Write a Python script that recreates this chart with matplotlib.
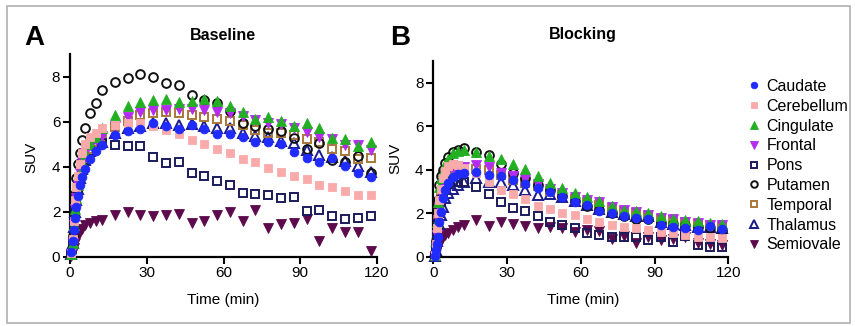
import matplotlib
matplotlib.use("Agg")
import matplotlib.pyplot as plt
from matplotlib.patches import Rectangle
import numpy as np

plt.rcParams['font.family'] = ['Liberation Sans', 'DejaVu Sans']

# ---------------- data ----------------
early_t = [0.5, 1.0, 1.5, 2.0, 2.5, 3.0, 3.75, 4.75, 6.0, 8.0, 10.0]
late_t = [12.5, 17.5, 22.5, 27.5, 32.5, 37.5, 42.5, 47.5, 52.5, 57.5, 62.5,
          67.5, 72.5, 77.5, 82.5, 87.5, 92.5, 97.5, 102.5, 107.5, 112.5, 117.5]
time_min = early_t + late_t

regions = ["Caudate", "Cerebellum", "Cingulate", "Frontal", "Pons",
           "Putamen", "Temporal", "Thalamus", "Semiovale"]

# Baseline (panel A)
base_caudate = [0.2, 0.7, 1.2, 1.7, 2.2, 2.7, 3.2, 3.55, 3.9, 4.35, 4.7,
                4.98, 5.41, 5.6, 5.66, 5.93, 5.82, 5.66, 5.87, 5.66, 5.46, 5.46,
                5.3, 5.08, 5.12, 5.02, 4.67, 4.37, 4.22, 4.37, 4.03, 3.7, 3.56]
base_cerebellum = [0.15, 0.8, 1.6, 2.5, 3.1, 3.6, 4.1, 4.6, 5.0, 5.3, 5.5,
                   5.7, 5.85, 5.95, 5.95, 5.8, 5.65, 5.45, 5.2, 5.0, 4.8, 4.6,
                   4.35, 4.2, 3.96, 3.76, 3.6, 3.45, 3.2, 3.12, 2.94, 2.76, 2.76]
base_cingulate = [0.1, 0.6, 1.4, 2.1, 2.6, 3.2, 3.7, 4.2, 4.6, 5.0, 5.3,
                  5.7, 6.31, 6.68, 6.86, 6.98, 7.0, 6.86, 6.9, 7.0, 6.9, 6.68,
                  6.41, 6.12, 6.2, 6.01, 5.82, 5.93, 5.74, 5.27, 5.23, 4.93, 5.12]
base_frontal = [0.1, 0.6, 1.4, 2.1, 2.6, 3.2, 3.7, 4.2, 4.6, 4.95, 5.2,
                5.35, 5.8, 6.21, 6.43, 6.53, 6.53, 6.56, 6.56, 6.53, 6.43, 6.38,
                6.27, 6.09, 5.93, 5.89, 5.71, 5.56, 5.31, 5.24, 4.96, 4.96, 4.75]
base_pons = [0.1, 0.6, 1.3, 2.0, 2.5, 3.0, 3.5, 3.9, 4.3, 4.7, 4.95,
             5.05, 4.98, 4.94, 4.9, 4.41, 4.16, 4.23, 3.72, 3.57, 3.38, 3.2,
             2.83, 2.8, 2.76, 2.61, 2.64, 2.01, 2.09, 1.82, 1.67, 1.71, 1.82]
base_putamen = [0.2, 0.9, 1.9, 2.8, 3.5, 4.1, 4.6, 5.2, 5.7, 6.4, 6.85,
                7.4, 7.75, 7.93, 8.1, 8.0, 7.7, 7.63, 7.2, 6.98, 6.83, 6.46,
                5.93, 5.83, 5.67, 5.59, 5.26, 4.78, 5.04, 4.3, 4.23, 4.48, 3.74]
base_temporal = [0.1, 0.6, 1.3, 2.0, 2.5, 3.0, 3.5, 4.0, 4.4, 4.8, 5.1,
                 5.3, 5.75, 6.03, 6.3, 6.38, 6.41, 6.38, 6.3, 6.2, 6.11, 6.03,
                 5.85, 5.63, 5.48, 5.5, 5.41, 5.22, 5.12, 4.78, 4.72, 4.33, 4.37]
base_thalamus = [0.1, 0.6, 1.3, 2.0, 2.5, 3.0, 3.5, 3.9, 4.3, 4.7, 5.0,
                 5.1, 5.5, 5.7, 5.8, 5.95, 5.95, 5.85, 5.9, 5.8, 5.7, 5.7,
                 5.5, 5.35, 5.3, 5.15, 5.04, 4.75, 4.52, 4.45, 4.25, 4.03, 3.75]
base_semiovale = [0.05, 0.2, 0.4, 0.6, 0.8, 0.95, 1.1, 1.25, 1.4, 1.5, 1.6,
                  1.62, 1.87, 1.97, 1.87, 1.82, 1.87, 1.91, 1.5, 1.57, 1.87, 1.97,
                  1.57, 2.06, 1.27, 1.46, 1.5, 1.67, 0.68, 1.27, 1.12, 1.12, 0.27]

# Blocking (panel B)
block_caudate = [0.05, 0.3, 0.6, 0.92, 1.6, 2.07, 2.68, 3.07, 3.4, 3.68, 3.8,
                 3.83, 3.91, 3.75, 3.71, 3.52, 3.34, 3.14, 2.99, 2.76, 2.53, 2.38,
                 2.1, 1.99, 1.87, 1.76, 1.72, 1.46, 1.38, 1.33, 1.23, 1.41, 1.26]
block_cerebellum = [0.1, 0.6, 1.3, 2.0, 2.6, 3.1, 3.6, 3.95, 4.15, 4.25, 4.2,
                    4.1, 3.83, 3.45, 3.07, 2.88, 2.64, 2.33, 2.18, 2.0, 1.92, 1.72,
                    1.58, 1.46, 1.38, 1.3, 1.23, 1.15, 1.1, 1.0, 0.92, 0.92, 0.85]
block_cingulate = [0.1, 0.7, 1.6, 2.5, 3.2, 3.6, 3.95, 4.25, 4.5, 4.75, 4.85,
                   4.9, 4.8, 4.65, 4.5, 4.25, 4.05, 3.7, 3.4, 3.15, 2.95, 2.75,
                   2.55, 2.35, 2.15, 2.1, 2.0, 1.85, 1.75, 1.7, 1.62, 1.55, 1.5]
block_frontal = [0.05, 0.4, 1.0, 1.7, 2.3, 2.9, 3.4, 3.8, 4.0, 4.1, 4.1,
                 4.12, 4.21, 4.14, 3.86, 3.71, 3.56, 3.34, 3.1, 2.94, 2.73, 2.61,
                 2.53, 2.3, 2.15, 2.07, 1.92, 1.77, 1.72, 1.61, 1.54, 1.46, 1.46]
block_pons = [0.05, 0.4, 0.9, 1.5, 2.0, 2.5, 2.9, 3.2, 3.35, 3.45, 3.45,
              3.45, 3.22, 2.88, 2.53, 2.22, 2.11, 1.87, 1.61, 1.46, 1.3, 1.1,
              1.02, 0.92, 0.89, 0.92, 0.77, 0.89, 0.69, 0.95, 0.55, 0.43, 0.45]
block_putamen = [0.1, 0.7, 1.6, 2.6, 3.3, 3.7, 4.0, 4.3, 4.6, 4.8, 4.9,
                 5.0, 4.8, 4.67, 4.25, 3.87, 3.6, 3.3, 3.05, 2.8, 2.55, 2.35,
                 2.15, 2.0, 1.85, 1.72, 1.75, 1.55, 1.5, 1.45, 1.35, 1.3, 1.25]
block_temporal = [0.05, 0.4, 1.0, 1.7, 2.3, 2.9, 3.4, 3.8, 4.05, 4.2, 4.15,
                  4.1, 4.05, 4.0, 3.75, 3.55, 3.4, 3.25, 3.0, 2.85, 2.65, 2.5,
                  2.4, 2.25, 2.1, 2.0, 1.85, 1.72, 1.68, 1.58, 1.5, 1.45, 1.42]
block_thalamus = [0.05, 0.3, 0.7, 1.1, 1.5, 1.9, 2.3, 2.7, 2.95, 3.1, 3.3,
                  3.45, 3.6, 3.45, 3.45, 3.3, 3.07, 2.84, 2.9, 2.75, 2.55, 2.4,
                  2.2, 2.05, 1.95, 1.85, 1.85, 1.6, 1.5, 1.45, 1.35, 1.35, 1.3]
block_semiovale = [0.02, 0.15, 0.3, 0.45, 0.6, 0.75, 0.9, 1.0, 1.1, 1.25, 1.35,
                   1.45, 1.69, 1.41, 1.61, 1.5, 1.41, 1.3, 1.35, 1.3, 1.15, 1.25,
                   1.2, 0.8, 0.95, 0.65, 0.9, 0.75, 0.8, 0.9, 0.65, 0.6, 0.55]

baseline = [base_caudate, base_cerebellum, base_cingulate, base_frontal, base_pons,
            base_putamen, base_temporal, base_thalamus, base_semiovale]
blocking = [block_caudate, block_cerebellum, block_cingulate, block_frontal, block_pons,
            block_putamen, block_temporal, block_thalamus, block_semiovale]

# ---------------- styles ----------------
styles = [
    dict(marker='o', mfc='#1f2bff', mec='#1f2bff'),          # Caudate
    dict(marker='s', mfc='#f9abab', mec='#f9abab'),          # Cerebellum
    dict(marker='^', mfc='#22b022', mec='#22b022'),          # Cingulate
    dict(marker='v', mfc='#b32cf0', mec='#b32cf0'),          # Frontal
    dict(marker='s', mfc='none', mec='#1b1b5c'),             # Pons
    dict(marker='o', mfc='none', mec='#111111'),             # Putamen
    dict(marker='s', mfc='none', mec='#a87838'),             # Temporal
    dict(marker='^', mfc='none', mec='#1a1a8a'),             # Thalamus
    dict(marker='v', mfc='#5c0a4c', mec='#5c0a4c'),          # Semiovale
]

W, H = 855, 326
fig = plt.figure(figsize=(W / 100, H / 100), dpi=100)


def fx(px):
    return px / W


def fy(py):
    return 1 - py / H


axA = fig.add_axes([fx(70), fy(256.7), fx(307), (256.7 - 54.2) / H])
axB = fig.add_axes([fx(433.3), fy(256.7), fx(295), (256.7 - 61.0) / H])

handles = []
for ax, data in ((axA, baseline), (axB, blocking)):
    for i in reversed(range(len(regions))):
        st = styles[i]
        ms = 6.3 if st['marker'] in ('o', 's') else 6.8
        ln, = ax.plot(time_min, data[i], linestyle='none', marker=st['marker'],
                      markerfacecolor=st['mfc'], markeredgecolor=st['mec'],
                      markersize=ms, markeredgewidth=1.4 if st['mfc'] == 'none' else 0.6,
                      clip_on=False, label=regions[i], zorder=3)
        if ax is axA:
            handles.insert(0, ln)
    ax.set_xlim(0, 120)
    ax.set_ylim(0, 9)
    ax.set_xticks([0, 30, 60, 90, 120])
    ax.set_yticks([0, 2, 4, 6, 8])
    for s in ('top', 'right'):
        ax.spines[s].set_visible(False)
    for s in ('left', 'bottom'):
        ax.spines[s].set_linewidth(1.6)
        ax.spines[s].set_zorder(2)
    ax.tick_params(axis='both', direction='out', length=5, width=1.5,
                   labelsize=11, pad=2, colors='black')
    ax.set_facecolor('none')

# titles / labels
fig.text(fx(34), fy(38), "A", fontsize=20, fontweight='bold', ha='center', va='center')
fig.text(fx(400), fy(38), "B", fontsize=20, fontweight='bold', ha='center', va='center')
fig.text(fx(223), fy(35), "Baseline", fontsize=11.5, fontweight='bold', ha='center', va='center')
fig.text(fx(583), fy(35), "Blocking", fontsize=11.5, fontweight='bold', ha='center', va='center')
fig.text(fx(223), fy(300), "Time (min)", fontsize=11, ha='center', va='center')
fig.text(fx(583), fy(300), "Time (min)", fontsize=11, ha='center', va='center')
fig.text(fx(31), fy(157), "SUV", fontsize=11, rotation=90, ha='center', va='center')
fig.text(fx(395), fy(158), "SUV", fontsize=11, rotation=90, ha='center', va='center')

# legend
fig.legend(handles=handles, labels=regions, loc='upper left',
           bbox_to_anchor=(fx(749), fy(79)), frameon=False, fontsize=11.5,
           handlelength=0.6, handletextpad=0.5, labelspacing=0.3,
           borderaxespad=0, borderpad=0, numpoints=1, markerscale=0.75)

# border frame
fig.patches.append(Rectangle((fx(7), fy(323)), fx(843), (323 - 6) / H,
                             transform=fig.transFigure, fill=False,
                             edgecolor='#b0b0b0', linewidth=1.2))

fig.savefig("out.png", dpi=100)
